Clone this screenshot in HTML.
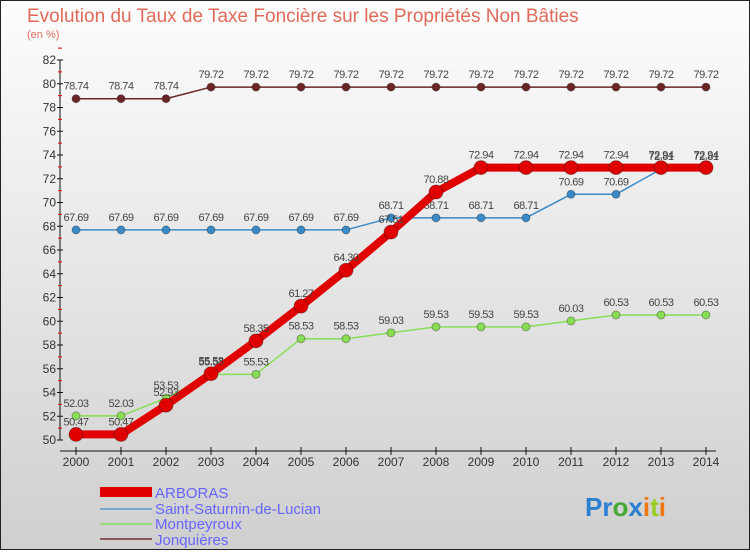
<!DOCTYPE html>
<html><head><meta charset="utf-8"><style>
body{margin:0;width:750px;height:550px;overflow:hidden;font-family:"Liberation Sans",sans-serif}
</style></head><body>
<svg id="c" width="750" height="550" xmlns="http://www.w3.org/2000/svg">
<defs><linearGradient id="bg" x1="0" y1="0" x2="0" y2="1"><stop offset="0" stop-color="#fdfdfd"/><stop offset="1" stop-color="#cfcfcf"/></linearGradient></defs>
<rect x="0.5" y="0.5" width="749" height="549" fill="url(#bg)" stroke="#222"/>
<text x="27" y="22" font-size="19" fill="#e06a5a">Evolution du Taux de Taxe Foncière sur les Propriétés Non Bâties</text>
<text x="27" y="38" font-size="11" fill="#e06a5a">(en %)</text>
<g id="axes"></g><g id="series"></g>
<g font-size="15" fill="#6666ff">
<rect x="100" y="487" width="52" height="10" fill="#e00000"/>
<text x="155" y="498">ARBORAS</text>
<rect x="100" y="508" width="52" height="2" fill="#7aa7cc"/>
<text x="155" y="514">Saint-Saturnin-de-Lucian</text>
<rect x="100" y="523" width="52" height="2" fill="#99dd77"/>
<text x="155" y="529">Montpeyroux</text>
<rect x="100" y="538" width="52" height="2" fill="#8a5a5a"/>
<text x="155" y="545">Jonquières</text>
</g>
<text x="585" y="516" font-size="26" font-weight="bold"><tspan fill="#2a7fd0">Pr</tspan><tspan fill="#44aa33">o</tspan><tspan fill="#2a7fd0">x</tspan><tspan fill="#ee7711">i</tspan><tspan fill="#99cc22">t</tspan><tspan fill="#ee7711">i</tspan></text>
</svg>
<script>
const years=[2000,2001,2002,2003,2004,2005,2006,2007,2008,2009,2010,2011,2012,2013,2014];
const yTicks=[50,52,54,56,58,60,62,64,66,68,70,72,74,76,78,80,82];
const arboras=[50.47,50.47,52.93,55.58,58.35,61.27,64.3,67.51,70.88,72.94,72.94,72.94,72.94,72.94,72.94];
const saintSaturnin=[67.69,67.69,67.69,67.69,67.69,67.69,67.69,68.71,68.71,68.71,68.71,70.69,70.69,72.81,72.81];
const montpeyroux=[52.03,52.03,53.53,55.53,55.53,58.53,58.53,59.03,59.53,59.53,59.53,60.03,60.53,60.53,60.53];
const jonquieres=[78.74,78.74,78.74,79.72,79.72,79.72,79.72,79.72,79.72,79.72,79.72,79.72,79.72,79.72,79.72];
const NS="http://www.w3.org/2000/svg";
const X=i=>76+i*45, Y=v=>440-(v-50)*(380/32);
function mk(t,a,p){const e=document.createElementNS(NS,t);for(const k in a)e.setAttribute(k,a[k]);p.appendChild(e);return e;}
const ax=document.getElementById('axes');
let e=mk('line',{x1:60,y1:Y(50),x2:60,y2:Y(82),stroke:'#111'},ax);


e=mk('line',{x1:60,y1:451,x2:716,y2:451,stroke:'#111'},ax);


yTicks.forEach(v=>{
 mk('line',{x1:57,y1:Y(v),x2:63,y2:Y(v),stroke:'#111'},ax);
 mk('line',{x1:58,y1:Y(v+1),x2:62,y2:Y(v+1),stroke:'#e00'},ax);
 e=mk('text',{x:56,y:Y(v)+4,'font-size':12,'text-anchor':'end',fill:'#333'},ax);e.textContent=v;
 
 
});
years.forEach((y,i)=>{
 mk('line',{x1:X(i),y1:447,x2:X(i),y2:455,stroke:'#111'},ax);
 e=mk('text',{x:X(i),y:466,'font-size':12,'text-anchor':'middle',fill:'#333'},ax);e.textContent=y;
 
 
});
const sg=document.getElementById('series');
function series(vals,color,w,r,name){
 const g=mk('g',{},sg);
 
 
 mk('polyline',{points:vals.map((v,i)=>X(i)+','+Y(v)).join(' '),fill:'none',stroke:color,'stroke-width':w,'stroke-linejoin':'round'},g);
 vals.forEach((v,i)=>{
  const c=mk('circle',{cx:X(i),cy:Y(v),r:r,fill:color,stroke:'rgba(0,0,0,0.3)'},g);
  
  
  const t=mk('text',{x:X(i),y:Y(v)-9,'font-size':11,'text-anchor':'middle',fill:'#444','letter-spacing':'-0.5'},g);
  t.textContent=v.toFixed(2);
 });
}
series(jonquieres,'#6b2525',1.5,4,'series-jonquieres');
series(saintSaturnin,'#3a8ac8',1.5,4,'series-saint-saturnin');
series(montpeyroux,'#88dd55',1.5,4,'series-montpeyroux');
series(arboras,'#e00000',8,7,'series-arboras');
</script>
</body></html>
